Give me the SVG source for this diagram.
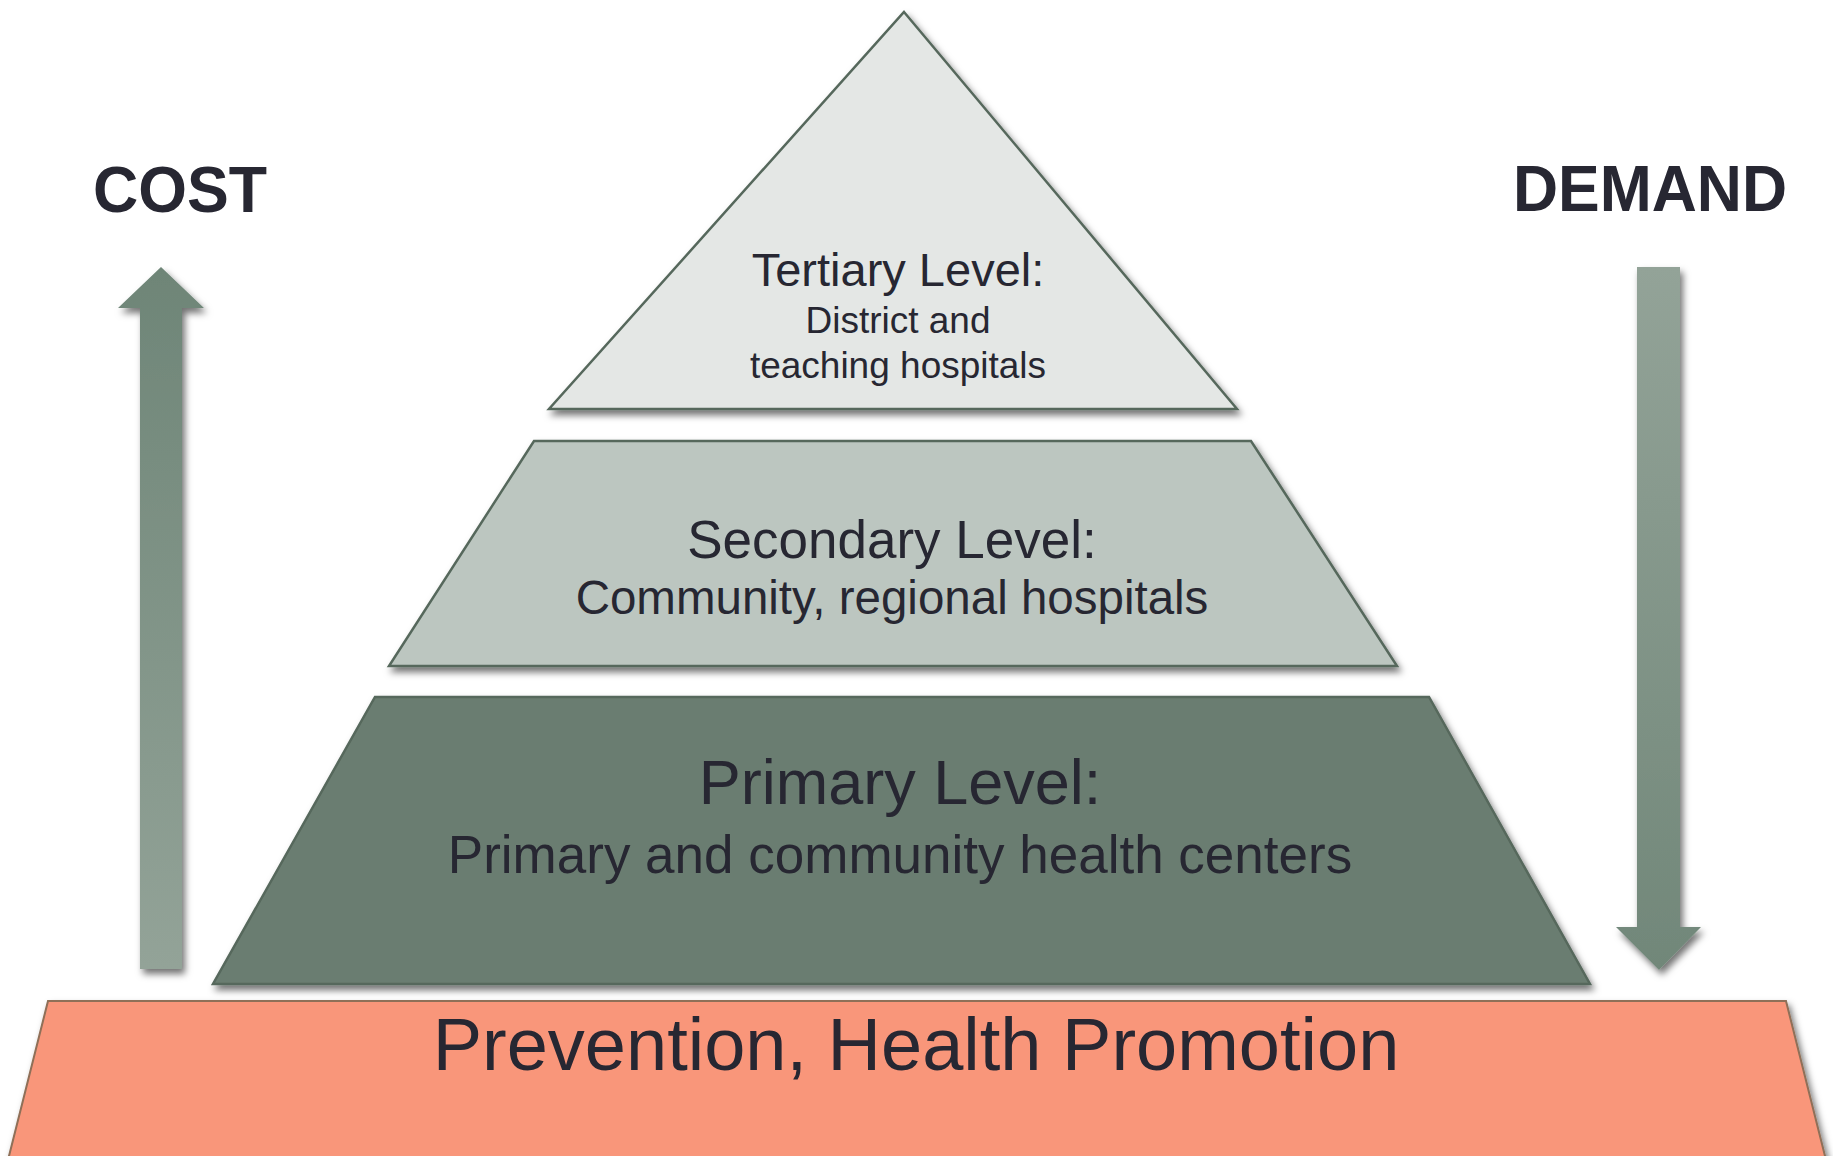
<svg xmlns="http://www.w3.org/2000/svg" width="1833" height="1156" viewBox="0 0 1833 1156">
  <defs>
    <filter id="sh" x="-10%" y="-10%" width="125%" height="130%">
      <feDropShadow dx="3" dy="5" stdDeviation="3.5" flood-color="#000" flood-opacity="0.55"/>
    </filter>
    <linearGradient id="upGrad" x1="0" y1="0" x2="0" y2="1">
      <stop offset="0" stop-color="#6e8577"/>
      <stop offset="1" stop-color="#93a398"/>
    </linearGradient>
    <linearGradient id="downGrad" x1="0" y1="0" x2="0" y2="1">
      <stop offset="0" stop-color="#93a398"/>
      <stop offset="1" stop-color="#718779"/>
    </linearGradient>
  </defs>
  <style>
    .lvl { stroke: #56685c; stroke-width: 2.5; stroke-linejoin: miter; filter: url(#sh); }
    .t { font-family: "Liberation Sans", Arial, sans-serif; fill: #272732; text-anchor: middle; }
    .hd { font-family: "Liberation Sans", Arial, sans-serif; font-weight: bold; fill: #272732; }
    .arrow { filter: url(#sh); }
  </style>
  <rect width="1833" height="1156" fill="#ffffff"/>

  <g id="prevention">
    <polygon points="48,1001 1786,1001 1826,1160 8,1160" fill="#f9967a" stroke="#8f6f58" stroke-width="2" filter="url(#sh)"/>
    <text class="t" x="916" y="1070" font-size="74">Prevention, Health Promotion</text>
  </g>

  <g id="primary">
    <polygon class="lvl" points="375,697 1429,697 1590,984 213,984" fill="#6b7d71"/>
    <text class="t" x="900" y="804" font-size="63">Primary Level:</text>
    <text class="t" x="900" y="873" font-size="53">Primary and community health centers</text>
  </g>

  <g id="secondary">
    <polygon class="lvl" points="534,441 1251,441 1397,666 389,666" fill="#bcc6c0"/>
    <text class="t" x="892" y="558" font-size="53">Secondary Level:</text>
    <text class="t" x="892" y="614" font-size="47.5">Community, regional hospitals</text>
  </g>

  <g id="tertiary">
    <polygon class="lvl" points="904,12 1237,409 549,409" fill="#e4e7e5"/>
    <text class="t" x="898" y="286" font-size="47">Tertiary Level:</text>
    <text class="t" x="898" y="333" font-size="37">District and</text>
    <text class="t" x="898" y="378" font-size="37">teaching hospitals</text>
  </g>

  <g id="cost">
    <text class="hd" x="93" y="212" font-size="65" textLength="174" lengthAdjust="spacingAndGlyphs">COST</text>
  </g>

  <g id="demand">
    <text class="hd" x="1513" y="211" font-size="65" textLength="274" lengthAdjust="spacingAndGlyphs">DEMAND</text>
  </g>

  <g id="connectors">
    <polygon class="arrow" points="161,267 204,308 182,308 182,969 140,969 140,308 118,308" fill="url(#upGrad)"/>
    <polygon class="arrow" points="1637,267 1680,267 1680,927 1701,927 1659,970 1616,927 1637,927" fill="url(#downGrad)"/>
  </g>
</svg>
